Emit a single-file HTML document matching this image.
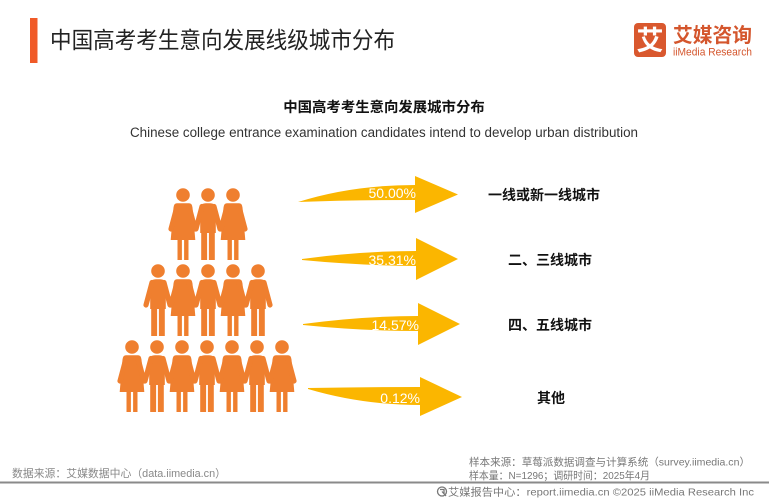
<!DOCTYPE html>
<html><head><meta charset="utf-8">
<style>
html,body{margin:0;padding:0;background:#fff;}
svg{display:block;}
text{font-family:"Liberation Sans","Noto Sans CJK SC",sans-serif;}
</style></head>
<body>
<svg width="769" height="500" viewBox="0 0 769 500" xmlns="http://www.w3.org/2000/svg">
<defs>
  <g id="man" fill="#EF7F2F">
    <circle cx="0" cy="0" r="6.8"/>
    <path d="M-7.8,14 Q-7.8,8.3 -2,8.3 L2,8.3 Q7.8,8.3 7.8,14 L7.8,38 L-7.8,38 Z"/>
    <rect x="-6.8" y="36" width="5.9" height="29"/>
    <rect x="0.9" y="36" width="5.9" height="29"/>
    <path d="M-6,11.5 L-12,34 M6,11.5 L12,34" stroke="#EF7F2F" stroke-width="5.2" stroke-linecap="round" fill="none"/>
  </g>
  <g id="woman" fill="#EF7F2F">
    <circle cx="0" cy="0" r="6.8"/>
    <path d="M-6,8.3 L6,8.3 Q9,8.3 9.5,12.5 L12.3,45 L-12.3,45 L-9.5,12.5 Q-9,8.3 -6,8.3 Z"/>
    <rect x="-5.5" y="44" width="4.4" height="21"/>
    <rect x="1.1" y="44" width="4.4" height="21"/>
    <path d="M-6,11.5 L-12,34 M6,11.5 L12,34" stroke="#EF7F2F" stroke-width="5.2" stroke-linecap="round" fill="none"/>
  </g>
</defs>

<!-- header -->
<rect x="30" y="18" width="7.5" height="45" fill="#F05A28"/>
<text x="50" y="48" font-size="23" fill="#222" textLength="345" lengthAdjust="spacingAndGlyphs">中国高考考生意向发展线级城市分布</text>

<!-- logo -->
<rect x="634" y="23" width="32" height="34" rx="4" fill="#D9582E"/>
<text x="650" y="50" font-size="27" font-weight="bold" fill="#fff" text-anchor="middle">艾</text>
<text x="673" y="42" font-size="20" font-weight="bold" fill="#D4562D" textLength="79" lengthAdjust="spacingAndGlyphs">艾媒咨询</text>
<text x="673" y="55.5" font-size="11" fill="#D4562D" textLength="79" lengthAdjust="spacingAndGlyphs">iiMedia Research</text>

<!-- subtitle -->
<text x="384" y="112" font-size="14.4" font-weight="bold" fill="#111" text-anchor="middle">中国高考考生意向发展城市分布</text>
<text x="130" y="137" font-size="13.5" fill="#333" textLength="508" lengthAdjust="spacingAndGlyphs">Chinese college entrance examination candidates intend to develop urban distribution</text>

<!-- people -->
<use href="#woman" x="183" y="195"/>
<use href="#man" x="208" y="195"/>
<use href="#woman" x="233" y="195"/>

<use href="#man" x="158" y="271"/>
<use href="#woman" x="183" y="271"/>
<use href="#man" x="208" y="271"/>
<use href="#woman" x="233" y="271"/>
<use href="#man" x="258" y="271"/>

<use href="#woman" x="132" y="347"/>
<use href="#man" x="157" y="347"/>
<use href="#woman" x="182" y="347"/>
<use href="#man" x="207" y="347"/>
<use href="#woman" x="232" y="347"/>
<use href="#man" x="257" y="347"/>
<use href="#woman" x="282" y="347"/>

<!-- arrows -->
<g fill="#FBB600">
  <path d="M298,202 Q352,185 415,185 L415,176 L458,194.5 L415,213 L415,200 Q350,200 298,202 Z"/>
  <path d="M302,259 Q360,251 416,251 L416,238 L458,259 L416,280 L416,266 Q360,265.5 302,260 Z"/>
  <path d="M303,324 Q362,316 418,316 L418,303 L460,324 L418,345 L418,331 Q362,331 303,325 Z"/>
  <path d="M308,388 Q365,387 420,387 L420,377 L462,397 L420,416 L420,405 Q362,405 308,389 Z"/>
</g>
<g font-size="14" fill="#fff" text-anchor="end">
  <text x="416" y="198">50.00%</text>
  <text x="416" y="265">35.31%</text>
  <text x="419" y="330">14.57%</text>
  <text x="420" y="403">0.12%</text>
</g>

<!-- category labels -->
<g font-size="14" fill="#111" font-weight="bold">
  <text x="488" y="200" textLength="112" lengthAdjust="spacingAndGlyphs">一线或新一线城市</text>
  <text x="508" y="265" textLength="84" lengthAdjust="spacingAndGlyphs">二、三线城市</text>
  <text x="508" y="330" textLength="84" lengthAdjust="spacingAndGlyphs">四、五线城市</text>
  <text x="537" y="403" textLength="28" lengthAdjust="spacingAndGlyphs">其他</text>
</g>

<!-- footer -->
<text x="12" y="477" font-size="11" fill="#888" textLength="214" lengthAdjust="spacingAndGlyphs">数据来源：艾媒数据中心（data.iimedia.cn）</text>
<text x="469" y="465.5" font-size="10.5" fill="#777" textLength="281" lengthAdjust="spacingAndGlyphs">样本来源：草莓派数据调查与计算系统（survey.iimedia.cn）</text>
<text x="469" y="479" font-size="10.5" fill="#777" textLength="181" lengthAdjust="spacingAndGlyphs">样本量：N=1296；调研时间：2025年4月</text>
<rect x="0" y="481.5" width="769" height="2" fill="#8a8a8a"/>
<g fill="none" stroke="#777" stroke-width="1.3">
  <circle cx="442" cy="491.5" r="4.5"/>
  <path d="M440,489.5 L444,489.5 L444,493.5 M442,491.5 L446,496"/>
</g>
<text x="448" y="495.5" font-size="10.5" fill="#777" textLength="306" lengthAdjust="spacingAndGlyphs">艾媒报告中心：report.iimedia.cn    ©2025  iiMedia Research  Inc</text>
</svg>
</body></html>
